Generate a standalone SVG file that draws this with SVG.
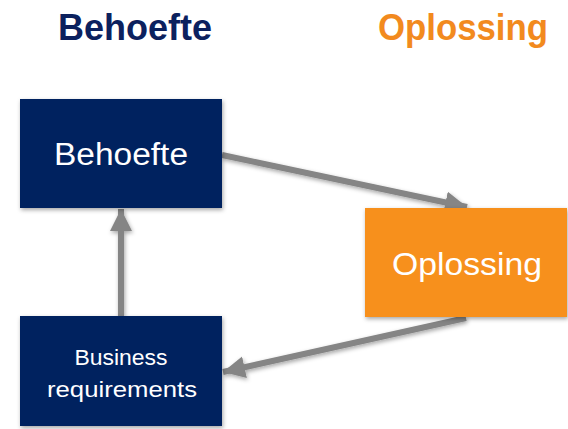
<svg xmlns="http://www.w3.org/2000/svg" width="568" height="429" viewBox="0 0 568 429">
<style>
.title{font-family:"Liberation Sans",Arial,sans-serif;font-weight:bold;font-size:36px}
.lbl{font-family:"Liberation Sans",Arial,sans-serif;fill:#ffffff}
.navy{fill:#06215f}
.orange{fill:#f7901e}
.conn{stroke:#858585;stroke-width:6;fill:none;marker-end:url(#ah)}
</style>
<defs>
<filter id="sh" x="-10%" y="-10%" width="125%" height="130%">
<feDropShadow dx="1" dy="2" stdDeviation="2" flood-color="#000" flood-opacity="0.35"/>
</filter>
<marker id="ah" markerUnits="userSpaceOnUse" markerWidth="26" markerHeight="26" refX="22" refY="11" orient="auto">
<path d="M0,0 L22,11 L0,22 Z" fill="#858585"/>
</marker>
</defs>
<rect width="568" height="429" fill="#ffffff"/>
<text class="title" x="58" y="40" fill="#0c215e" textLength="154" lengthAdjust="spacingAndGlyphs">Behoefte</text>
<text class="title" x="378" y="40" fill="#f28a1e" textLength="170" lengthAdjust="spacingAndGlyphs">Oplossing</text>
<g id="connectors" filter="url(#sh)">
<line class="conn" x1="222" y1="155" x2="467" y2="207"/>
<line class="conn" x1="466" y1="318" x2="223" y2="372"/>
<line class="conn" x1="121" y1="316" x2="121" y2="209"/>
</g>
<g id="behoefte">
<rect class="navy" x="20" y="99" width="202" height="109" filter="url(#sh)"/>
<text class="lbl" x="121" y="165" font-size="31" text-anchor="middle" textLength="134" lengthAdjust="spacingAndGlyphs">Behoefte</text>
</g>
<g id="oplossing">
<rect class="orange" x="365" y="208" width="202" height="109" filter="url(#sh)"/>
<text class="lbl" x="467" y="275" font-size="31" text-anchor="middle" textLength="150" lengthAdjust="spacingAndGlyphs">Oplossing</text>
</g>
<g id="business">
<rect class="navy" x="20" y="316" width="202" height="110" filter="url(#sh)"/>
<text class="lbl" x="121" y="365" font-size="22" text-anchor="middle" textLength="93" lengthAdjust="spacingAndGlyphs">Business</text>
<text class="lbl" x="122" y="397" font-size="22" text-anchor="middle" textLength="150" lengthAdjust="spacingAndGlyphs">requirements</text>
</g>
</svg>
